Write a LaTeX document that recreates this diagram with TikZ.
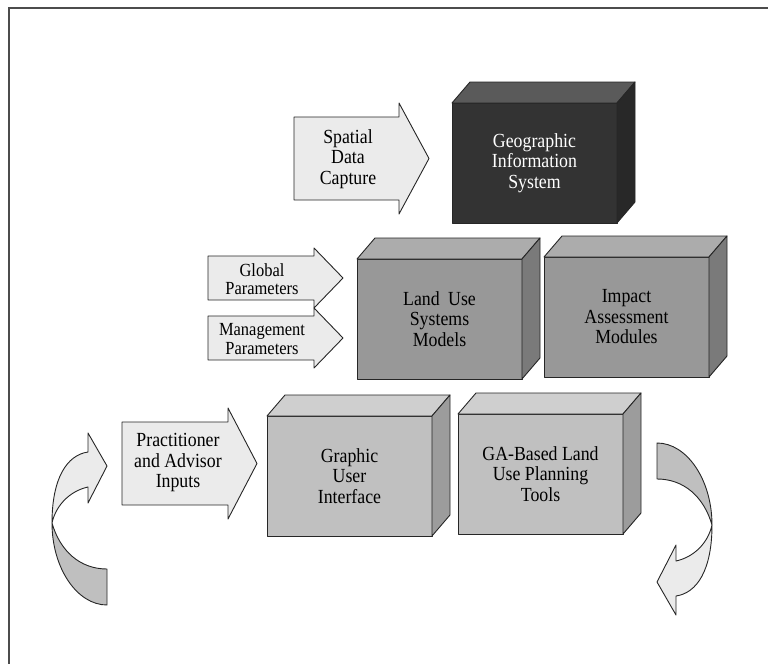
\documentclass[tikz,border=0pt]{standalone}
\usepackage{fontspec}
\setmainfont{Liberation Serif}[FakeStretch=0.89]
\usepackage{tikz}
\usetikzlibrary{positioning, calc}

\definecolor{arrowfill}{HTML}{EBEBEB}
\definecolor{curldarkfill}{HTML}{BFBFBF}
\definecolor{gisfront}{HTML}{333333}
\definecolor{gistop}{HTML}{5A5A5A}
\definecolor{gisside}{HTML}{282828}
\definecolor{modelfront}{HTML}{989898}
\definecolor{modeltop}{HTML}{ACACAC}
\definecolor{modelside}{HTML}{7A7A7A}
\definecolor{toolfront}{HTML}{C0C0C0}
\definecolor{tooltop}{HTML}{CFCFCF}
\definecolor{toolside}{HTML}{9C9C9C}

\newcommand{\diagfont}{\fontsize{20}{20.5}\selectfont}
\newcommand{\smalldiagfont}{\fontsize{18.5}{18.5}\selectfont}

\tikzstyle{frame} = [line width=1.5pt, draw=black!70]
\tikzstyle{boxline} = [draw=black!85, line width=0.9pt, line join=round]
\tikzstyle{cube} = [rectangle, minimum width=165pt, minimum height=120pt, inner sep=0pt, outer sep=0pt, boxline, align=center, font=\diagfont]
\tikzstyle{gisbox} = [cube, fill=gisfront, text=white]
\tikzstyle{modelbox} = [cube, fill=modelfront]
\tikzstyle{toolbox} = [cube, fill=toolfront]
\tikzstyle{inarrow} = [boxline, fill=arrowfill]
\tikzstyle{arrowtext} = [align=center, font=\diagfont, inner sep=0pt]
\tikzstyle{curllight} = [boxline, fill=arrowfill]
\tikzstyle{curldark} = [boxline, fill=curldarkfill]

% block arrow: left x, head x, tip x, centre y, half shaft, half head
\newcommand{\fatarrow}[6]{%
  \filldraw[inarrow] (#1,#4-#5) -- (#2,#4-#5) -- (#2,#4-#6) -- (#3,#4)
    -- (#2,#4+#6) -- (#2,#4+#5) -- (#1,#4+#5) -- cycle;}

% top and side faces of a box node: name, top colour, side colour
\newcommand{\boxfaces}[3]{%
  \filldraw[boxline, fill=#2] (#1.north west) -- ++(18,-21)
    -- ($(#1.north east)+(18,-21)$) -- (#1.north east) -- cycle;
  \filldraw[boxline, fill=#3] (#1.north east) -- ++(18,-21)
    -- ($(#1.south east)+(18,-21)$) -- (#1.south east) -- cycle;}

\tikzset{curlarrow/.pic={
  \filldraw[curldark] (0,0) .. controls (0,45) and (25,82) .. (55,82) -- (55,46)
    .. controls (28,46) and (8,28) .. (0,0) -- cycle;
  \filldraw[curllight] (0,0) .. controls (0,-45) and (15,-68) .. (36,-71) -- (36,-90)
    -- (55,-57) -- (36,-20) -- (36,-36) .. controls (18,-32) and (4,-18) .. (0,0) -- cycle;
}}

\begin{document}
\begin{tikzpicture}[x=1pt, y=-1pt]
    \useasboundingbox (0,0) rectangle (768,664);
    \draw [frame] (768,8) -- (9,8) -- (9,664);

    % input arrows
    \fatarrow{294}{399}{429}{158.5}{41.5}{55.5}
    \fatarrow{208}{314}{343}{278}{22}{30}
    \fatarrow{208}{314}{343}{338}{22}{30}
    \fatarrow{122}{228}{257}{463.5}{41.5}{55.5}
    \node (spatial) [arrowtext] at (348,159) {Spatial\\Data\\Capture};
    \node (global) [arrowtext, font=\smalldiagfont] at (262,279) {Global\\Parameters};
    \node (mgmt) [arrowtext, font=\smalldiagfont] at (262,339) {Management\\Parameters};
    \node (practitioner) [arrowtext] at (178,463) {Practitioner\\and Advisor\\Inputs};

    % boxes
    \node (gis) [gisbox] at (534.5,163) {Geographic\\Information\\System};
    \node (landuse) [modelbox] at (439.5,319) {Land\hspace{4pt} Use\\Systems\\Models};
    \node (impact) [modelbox, right=22pt of landuse, yshift=2pt] {Impact\\Assessment\\Modules};
    \node (gui) [toolbox] at (349.5,476) {Graphic\\User\\Interface};
    \node (gatools) [toolbox, right=26pt of gui, yshift=2pt] {GA-Based Land\\Use Planning\\Tools};
    \boxfaces{gis}{gistop}{gisside}
    \boxfaces{landuse}{modeltop}{modelside}
    \boxfaces{impact}{modeltop}{modelside}
    \boxfaces{gui}{tooltop}{toolside}
    \boxfaces{gatools}{tooltop}{toolside}

    % loop arrows
    \pic at (52,523) {curlarrow};
    \pic [rotate=180] at (712,525) {curlarrow};
\end{tikzpicture}
\end{document}
